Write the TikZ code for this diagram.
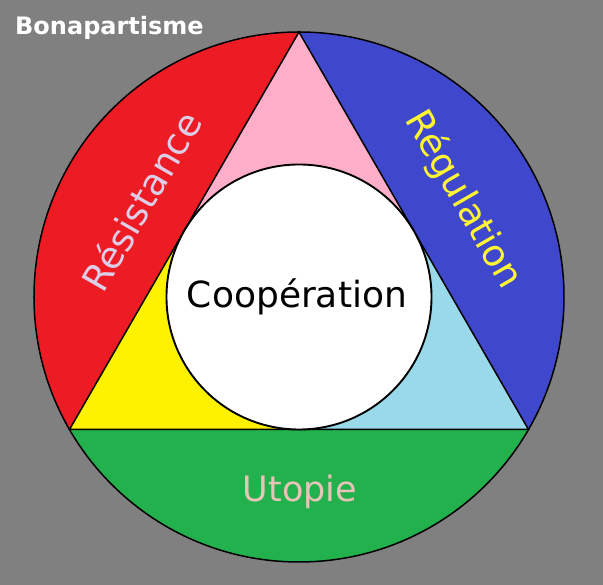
\documentclass[tikz,border=0pt]{standalone}
\usepackage{fontspec}
\setmainfont{DejaVu Sans}
\definecolor{bggray}{HTML}{808080}
\definecolor{pred}{HTML}{ED1C24}
\definecolor{pblue}{HTML}{3F48CC}
\definecolor{pgreen}{HTML}{22B14C}
\definecolor{ppink}{HTML}{FFAEC9}
\definecolor{pyellow}{HTML}{FFF200}
\definecolor{plblue}{HTML}{99D9EA}
\definecolor{lavtext}{HTML}{DDCDE6}
\definecolor{rosetext}{HTML}{E6C4B8}
\definecolor{yeltext}{HTML}{FFF533}

\begin{document}
\begin{tikzpicture}[x=1pt,y=1pt]
            % Base settings
            \tikzset{
              myline/.style={line width=1.5pt, black},
              mylabel/.style={inner sep=0pt, font=\fontsize{37}{40}\selectfont}
            }
            \def\bigR{265}
            \def\smallr{132.5}

            % --- Background ---
            \fill[bggray] (-299,-288) rectangle (304,297);
            \useasboundingbox (-299,-288) rectangle (304,297);

            % --- Circle segments ---
            \fill[pred]
              (90:\bigR) arc[start angle=90, end angle=210, radius=\bigR] -- cycle;
            \fill[pblue]
              (-30:\bigR) arc[start angle=-30, end angle=90, radius=\bigR] -- cycle;
            \fill[pgreen]
              (210:\bigR) arc[start angle=210, end angle=330, radius=\bigR] -- cycle;

            % --- Triangle corners ---
            \fill[ppink]
              (90:\bigR) -- (150:\smallr) arc[start angle=150, end angle=30, radius=\smallr] -- cycle;
            \fill[pyellow]
              (210:\bigR) -- (270:\smallr) arc[start angle=270, end angle=150, radius=\smallr] -- cycle;
            \fill[plblue]
              (330:\bigR) -- (30:\smallr) arc[start angle=30, end angle=-90, radius=\smallr] -- cycle;

            % --- Outlines ---
            \draw[myline] (0,0) circle[radius=\bigR];
            \draw[myline] (90:\bigR) -- (210:\bigR) -- (330:\bigR) -- cycle;
            \draw[myline, fill=white, line width=1.9pt] (0,0) circle[radius=\smallr];

            % --- Labels ---
            \node[mylabel, font=\fontsize{36}{40}\selectfont] (coop) at (-2,0) {Coopération};
            \node[mylabel, lavtext, rotate=60] (resist) at (-158,96) {Résistance};
            \node[mylabel, yeltext, rotate=-60] (regul) at (164,97) {Régulation};
            \node[mylabel, rosetext, font=\fontsize{35}{40}\selectfont] (utop) at (1,-195) {Utopie};
            \node[anchor=west, inner sep=0pt, white, font=\bfseries\fontsize{24}{28}\selectfont]
              (title) at (-284,269) {Bonapartisme};

            \end{tikzpicture}
\end{document}
